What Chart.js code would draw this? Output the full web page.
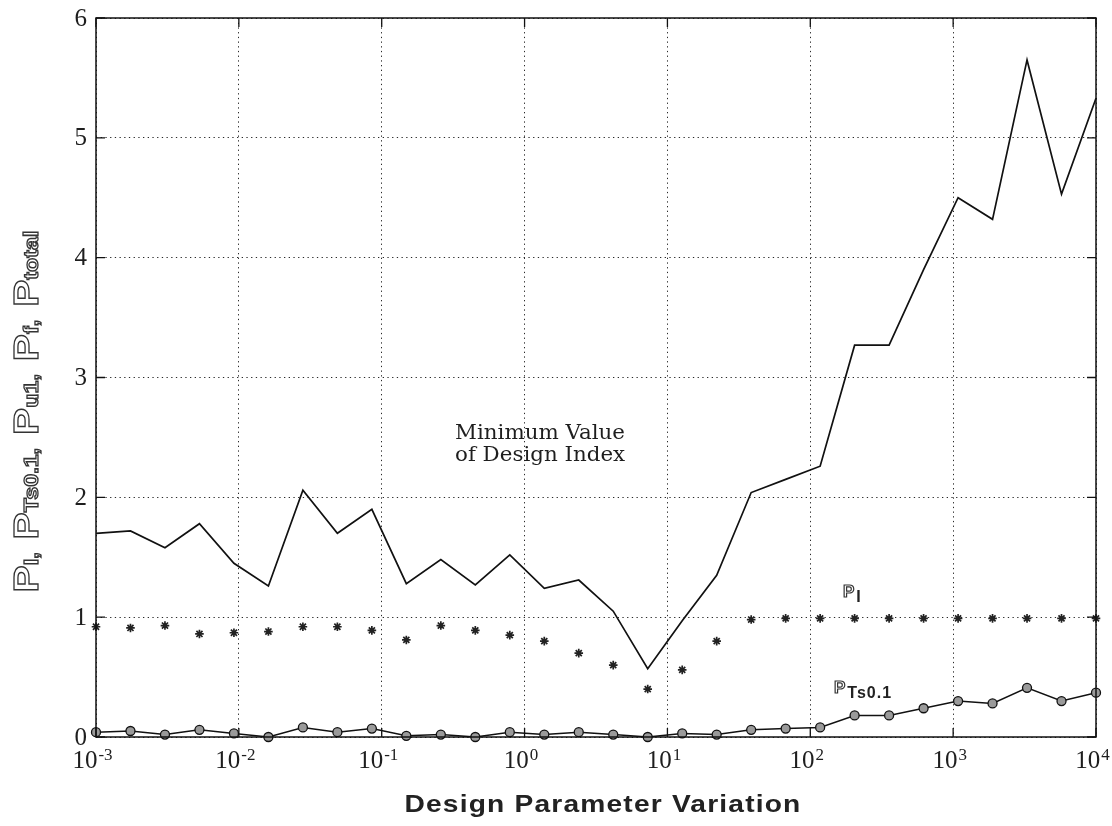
<!DOCTYPE html>
<html>
<head>
<meta charset="utf-8">
<script src="https://cdn.jsdelivr.net/npm/chart.js@4.4.1/dist/chart.umd.min.js"></script>
<style>
  html, body { margin: 0; padding: 0; background: #ffffff; }
  #wrap { width: 1112px; height: 826px; position: relative; }
</style>
</head>
<body>
<div id="wrap"><canvas id="c" width="1112" height="826"></canvas></div>
<script>
// ---------------- data ----------------
const designVariation = [0.001, 0.001743, 0.003039, 0.005298, 0.009237, 0.0161, 0.02807, 0.04894, 0.08532, 0.1487,
  0.2593, 0.452, 0.788, 1.374, 2.395, 4.175, 7.279, 12.69, 22.12, 38.57,
  67.24, 117.2, 204.3, 356.2, 621.0, 1083, 1887, 3290, 5736, 10000];
const totalIndex = [1.70, 1.72, 1.58, 1.78, 1.45, 1.26, 2.06, 1.70, 1.90, 1.28,
  1.48, 1.27, 1.52, 1.24, 1.31, 1.05, 0.57, 0.97, 1.35, 2.04,
  2.15, 2.26, 3.27, 3.27, 3.90, 4.50, 4.32, 5.65, 4.53, 5.33];
const pI = [0.92, 0.91, 0.93, 0.86, 0.87, 0.88, 0.92, 0.92, 0.89, 0.81,
  0.93, 0.89, 0.85, 0.80, 0.70, 0.60, 0.40, 0.56, 0.80, 0.98,
  0.99, 0.99, 0.99, 0.99, 0.99, 0.99, 0.99, 0.99, 0.99, 0.99];
const pTs01 = [0.04, 0.05, 0.02, 0.06, 0.03, 0.00, 0.08, 0.04, 0.07, 0.01,
  0.02, 0.00, 0.04, 0.02, 0.04, 0.02, 0.00, 0.03, 0.02, 0.06,
  0.07, 0.08, 0.18, 0.18, 0.24, 0.30, 0.28, 0.41, 0.30, 0.37];

const xTickExponents = [-3, -2, -1, 0, 1, 2, 3, 4];
const yTickValues = [0, 1, 2, 3, 4, 5, 6];
const xAxisTitle = 'Design Parameter Variation';
const yTitleParts = [['P', 'I'], ['P', 'Ts0.1'], ['P', 'u1'], ['P', 'f'], ['P', 'total']];
const noteX = 0.326;
const noteLines = [['Minimum Value', 2.49], ['of Design Index', 2.30]];
const seriesLabels = [['P', 'I', 169.4, 1.168], ['P', 'Ts0.1', 146.6, 0.367]];

// ---------------- drawing helpers ----------------
const SERIF = '"Liberation Serif", "Times New Roman", serif';
const SANS = '"Liberation Sans", Arial, sans-serif';
const NOTE_SERIF = '"DejaVu Serif", "Liberation Serif", serif';

function hollowText(ctx, t, x, y, lw) {
  ctx.fillStyle = '#ffffff';
  ctx.fillText(t, x, y);
  ctx.strokeStyle = '#333333';
  ctx.lineWidth = lw || 1.2;
  ctx.strokeText(t, x, y);
}

const decorPlugin = {
  id: 'decor',
  afterDraw(chart) {
    const { ctx, chartArea: a, scales: { x, y } } = chart;
    ctx.save();

    // frame box
    ctx.strokeStyle = '#111';
    ctx.lineWidth = 1.5;
    ctx.strokeRect(a.left, a.top, a.right - a.left, a.bottom - a.top);

    // inward tick marks
    ctx.lineWidth = 1.3;
    ctx.beginPath();
    xTickExponents.forEach(e => {
      const px = x.getPixelForValue(Math.pow(10, e));
      ctx.moveTo(px, a.bottom); ctx.lineTo(px, a.bottom - 9);
      ctx.moveTo(px, a.top); ctx.lineTo(px, a.top + 9);
    });
    yTickValues.forEach(v => {
      const py = y.getPixelForValue(v);
      ctx.moveTo(a.left, py); ctx.lineTo(a.left + 9, py);
      ctx.moveTo(a.right, py); ctx.lineTo(a.right - 9, py);
    });
    ctx.stroke();

    // y tick labels
    ctx.fillStyle = '#1e1e1e';
    ctx.font = `25px ${SERIF}`;
    ctx.textAlign = 'right';
    ctx.textBaseline = 'middle';
    yTickValues.forEach(v => {
      ctx.fillText(String(v), a.left - 9, y.getPixelForValue(v) + 1);
    });

    // x tick labels with superscript exponents
    ctx.textAlign = 'left';
    ctx.textBaseline = 'alphabetic';
    const baseY = a.bottom + 31;
    xTickExponents.forEach(e => {
      const px = x.getPixelForValue(Math.pow(10, e));
      ctx.font = `25px ${SERIF}`;
      const wb = ctx.measureText('10').width;
      const expText = e < 0 ? '-' + Math.abs(e) : String(e);
      ctx.font = `17px ${SERIF}`;
      const we = ctx.measureText(expText).width;
      const start = px - (wb + we) / 2 - 4;
      ctx.font = `25px ${SERIF}`;
      ctx.fillText('10', start, baseY);
      ctx.font = `17px ${SERIF}`;
      ctx.fillText(expText, start + wb + 1, baseY - 8);
    });

    // x axis title
    ctx.fillStyle = '#222';
    ctx.font = `bold 24px ${SANS}`;
    ctx.textAlign = 'center';
    try { ctx.letterSpacing = '1px'; } catch (err) {}
    const tw = ctx.measureText(xAxisTitle).width;
    const target = 397;
    ctx.save();
    const cx = (a.left + a.right) / 2 + 7;
    ctx.translate(cx, 812);
    ctx.scale(target / tw, 1);
    ctx.fillText(xAxisTitle, 0, 0);
    ctx.restore();
    try { ctx.letterSpacing = '0px'; } catch (err) {}

    // y axis title (hollow letters, rotated)
    const big = `bold 35px ${SANS}`, small = `bold 20px ${SANS}`;
    const segs = [];
    yTitleParts.forEach((p, i) => {
      segs.push([p[0], big]);
      segs.push([p[1], small]);
      if (i < yTitleParts.length - 1) segs.push([',  ', small]);
    });
    let total = 0;
    segs.forEach(s => { ctx.font = s[1]; s.push(ctx.measureText(s[0]).width); total += s[2]; });
    ctx.save();
    ctx.translate(38, (a.top + a.bottom) / 2 + 34);
    ctx.rotate(-Math.PI / 2);
    const sc = 362 / total;
    ctx.scale(sc, 1);
    ctx.textAlign = 'left';
    let pos = -total / 2;
    segs.forEach(s => {
      ctx.font = s[1];
      hollowText(ctx, s[0], pos, 0, 1.3);
      pos += s[2];
    });
    ctx.restore();

    // annotation text
    ctx.fillStyle = '#1e1e1e';
    ctx.font = `19.5px ${NOTE_SERIF}`;
    ctx.textAlign = 'left';
    const nx = x.getPixelForValue(noteX);
    const nw = ctx.measureText(noteLines[0][0]).width;
    const nsc = 170 / nw;
    noteLines.forEach(l => {
      ctx.save();
      ctx.translate(nx, y.getPixelForValue(l[1]));
      ctx.scale(nsc, 1);
      ctx.fillText(l[0], 0, 0);
      ctx.restore();
    });

    // series labels
    seriesLabels.forEach(l => {
      const lx = x.getPixelForValue(l[2]);
      const ly = y.getPixelForValue(l[3]);
      ctx.font = `bold 17px ${SANS}`;
      hollowText(ctx, l[0], lx, ly, 1.2);
      const w = ctx.measureText(l[0]).width;
      ctx.font = `bold 16px ${SANS}`;
      ctx.fillStyle = '#222';
      try { ctx.letterSpacing = '1px'; } catch (err) {}
      ctx.fillText(l[1], lx + w + 2, ly + 5);
      try { ctx.letterSpacing = '0px'; } catch (err) {}
    });

    ctx.restore();
  }
};

const toPts = arr => designVariation.map((v, i) => ({ x: v, y: arr[i] }));

new Chart(document.getElementById('c'), {
  type: 'line',
  data: {
    datasets: [
      {
        label: 'Minimum Value of Design Index',
        data: toPts(totalIndex),
        borderColor: '#111', borderWidth: 1.7,
        pointRadius: 0, tension: 0, clip: false
      },
      {
        label: 'P_I',
        data: toPts(pI),
        showLine: false,
        pointStyle: 'star', pointRadius: 4.3,
        pointBorderColor: '#222', pointBorderWidth: 1.7,
        pointBackgroundColor: '#222', clip: false
      },
      {
        label: 'P_Ts0.1',
        data: toPts(pTs01),
        borderColor: '#111', borderWidth: 1.5, tension: 0,
        pointStyle: 'circle', pointRadius: 4.5,
        pointBorderColor: '#111', pointBorderWidth: 1.3,
        pointBackgroundColor: '#9a9a9a', clip: false
      }
    ]
  },
  options: {
    responsive: false,
    animation: false,
    devicePixelRatio: 1,
    layout: { padding: { left: 96, right: 16, top: 18, bottom: 89 } },
    plugins: { legend: { display: false }, tooltip: { enabled: false } },
    scales: {
      x: {
        type: 'logarithmic', min: 1e-3, max: 1e4,
        afterBuildTicks: s => { s.ticks = xTickExponents.map(e => ({ value: Math.pow(10, e) })); },
        ticks: { display: false },
        grid: { color: '#2a2a2a', lineWidth: 1, drawTicks: false },
        border: { display: false, dash: [1.3, 3.4] }
      },
      y: {
        min: 0, max: 6,
        afterBuildTicks: s => { s.ticks = yTickValues.map(v => ({ value: v })); },
        ticks: { display: false },
        grid: { color: '#2a2a2a', lineWidth: 1, drawTicks: false },
        border: { display: false, dash: [1.3, 3.4] }
      }
    }
  },
  plugins: [decorPlugin]
});
</script>
</body>
</html>
